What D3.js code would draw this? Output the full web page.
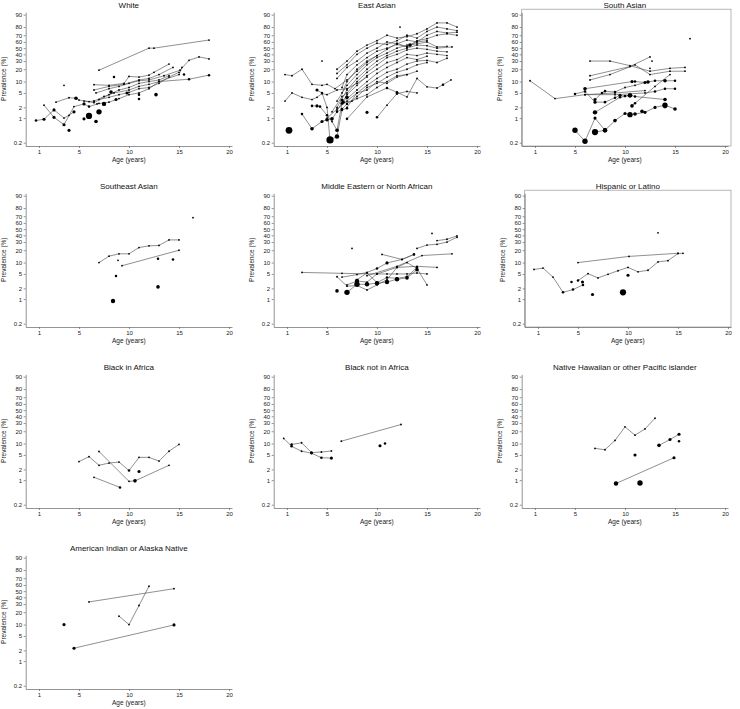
<!DOCTYPE html>
<html>
<head>
<meta charset="utf-8">
<script src="https://cdn.jsdelivr.net/npm/d3@7"></script>
<style>
body { margin: 0; background: #fff; }
svg text { font-family: "Liberation Sans", Arial, sans-serif; }
</style>
</head>
<body>
<svg id="chart" width="740" height="709"></svg>
<script>
var yTicks = [0.2, 1, 2, 5, 10, 20, 30, 40, 50, 60, 70, 80, 90];
var xTicks = [1, 5, 10, 15, 20];

// each series is a list of [age, prevalence %, weight]; a one-point series is a lone study
var white = [
	[[7,19],[12,50],[12.5,50],[18,63]],
	[[6.5,8.3],[8,8],[9.5,9],[10,13.5],[11,13],[12,14.5],[12.5,17],[14,26]],
	[[6.5,6],[8,7.5],[9.5,8.5],[11,11],[12,12],[13,15],[14.4,22]],
	[[6.7,5],[8,6.5],[9,7.5],[10,9],[11,10.5],[12,11],[13.5,14],[15.1,19],[16,31],[17,36],[18,33]],
	[[6.5,3],[7.5,4],[8.5,5],[10,6],[11,7.5],[12,8.5],[13,10],[15,15],[15.3,22]],
	[[7,3.3],[8,3.8],[9,4.5],[10,5.2],[11,6.5],[12,7],[13,9],[14,13],[15,17]],
	[[6.8,2.5],[8,2.8],[9,3.5],[10,4.5],[11,5],[12,6.5],[13,10],[16,11.5,2],[18,14.5,2]],
	[[5.5,3],[6.5,2.7],[8,4.5],[9,6],[10,7],[11,9],[12,10],[13,11],[14,14]],
	[[0.7,0.85,2],[1.5,0.93,3],[2.5,1.7,3],[3.5,1.0],[4,1.2],[4.5,1.5,3]],
	[[1.5,2.3],[2.5,1.05,3],[3.5,0.65,3],[4.5,2.1],[5.5,2.5,3],[6,2.1,2],[7,2.6]],
	[[2.7,2.8],[4,3.7],[4.7,3.6,4],[5,3.2],[6,2.9],[6.5,3]],
	[[3.5,8]], [[4,0.45,3]], [[6,1.15,12]], [[7,1.5,9]], [[7.5,2.5,6]], [[6.7,0.8,4]],
	[[5.5,0.95,3]], [[8.5,13,2]], [[8.7,3.3,3]], [[8.2,5.3,4]], [[9.8,5,3]], [[11,3.4,2]],
	[[11,4.5,2]], [[12.7,4.5,4]], [[15.5,15,2]]
];

var eastAsian = [
	[[6,20],[7,30],[8,45],[9,55],[10,62],[11,70],[12,66],[13,68],[14,72],[15,78],[16,84],[17,84],[18,80]],
	[[6,16],[7,25],[8,40],[9,50],[10,58],[11,56],[12,62],[13,70],[14,66],[15,75],[16,80],[17,78],[18,76]],
	[[6,12],[7,22],[8,30],[9,42],[10,50],[11,60],[12,57],[13,63],[14,60],[15,70],[16,75],[17,73],[18,74]],
	[[6.5,7],[7,15],[8,25],[9,35],[10,45],[11,50],[12,56],[13,52],[14,62],[15,65],[16,70],[17,72],[18,70]],
	[[6.5,5],[7,10],[8,20],[9,30],[10,38],[11,48],[12,58],[13,52],[14,60],[15,62]],
	[[6,3],[7,8],[8,15],[9,25],[10,35],[11,42],[12,50],[13,55],[14,57],[15,60],[16,52],[17,53]],
	[[6,2],[7,6],[8,12],[9,20],[10,30],[11,38],[12,45],[13,50],[14,55],[15,54],[16,50],[17.5,52]],
	[[5.5,1.5],[6.5,4],[7,5],[8,10],[9,17],[10,25],[11,35],[12,40],[13,47],[14,50],[15,48],[16,45],[17,44]],
	[[6,1.6],[7,4.5],[8,8],[9,14],[10,20],[11,28],[12,32],[13,40],[14,38],[15,42],[16,40],[17,38]],
	[[7,3.5],[8,6],[9,10],[10,16],[11,22],[12,28],[13,35],[14,32],[15,37]],
	[[7,2],[8,5],[9,8],[10,12],[11,17],[12,20],[13,26],[14,30],[15,31],[16,28],[17,34]],
	[[6.7,2.8],[7.5,3],[8,4],[9,7],[10,9],[11,13],[12,17],[13,20],[14,25],[15,28]],
	[[7,2.6],[8,3.5],[9,4.5],[10,7],[11,10],[12,14],[13,15],[14,18]],
	[[5,1],[6,1.8],[7,3],[8,5],[9,6],[10,10],[11,9],[12,13],[13,15]],
	[[0.8,15],[1.5,14],[2.5,20],[3.5,8.5],[4.5,8],[5,8.5],[5.8,6.5],[7,11],[8,18],[9,28],[10,38]],
	[[0.8,3],[1.5,5],[2.5,3.8],[3.5,3.3],[4,3.8],[4.5,4.8],[5,4.5],[6,6],[7,6.5],[8,9],[9,13]],
	[[2.5,1.3,2],[3.5,0.5,4],[4.5,0.8,3],[5,0.9,4],[5.5,0.95,4],[6,1.5,2],[6.5,1.8,2],[7,2.5,2]],
	[[3.5,2.2,2],[4,2.2,3],[4.3,2.1,2],[5,1.2,2],[5.5,0.8],[6,0.45,4],[6.5,2.6,3],[7,3.8,4]],
	[[4,6,3],[4.5,5,2],[5,2],[5.3,0.24,16],[6,0.3,6],[6.5,1.7,2],[7,1.9,2]],
	[[7,0.95,2],[9,3.9],[11,6.8,2],[12,5.2,2],[13,3.9],[14,12],[15,7.3],[16,6.8],[16.6,8.3,2],[17.4,11]],
	[[10,1.05,2],[11,2.3],[12,4.8,2],[13,5.5],[14,5]],
	[[1.2,0.45,14]], [[4.5,30]], [[12.3,80]], [[13.3,55,4]], [[9,1.45,3]], [[6.5,3.2,3]], [[6.6,2.8,3]]
];

var southAsian = [
	[[0.5,10.5],[3,3.5],[6,4.5],[9,5],[12,5.8]],
	[[5,4.7,2],[6,5.5,2],[7,2.8,3],[8,2.8,2],[9,3.7,2],[9.5,4.3,3],[10,4.1,2],[10.5,4.3,6],[11,4,2],[14,3.3,4]],
	[[6,6.5,4],[10.7,10,3],[11,10,2],[12,9.5,3],[12.3,9.8,4]],
	[[7,3.3,3],[7.7,5,2],[8,5.6,2],[9,5.3,2],[10,7],[11,8],[12,9.5],[13,10.5,2],[14,10.5,4],[15,10.5,2]],
	[[6,4.5],[9,4.5],[12,5],[13,5.5,2],[14,6.5,2],[15,6.5,2]],
	[[10.7,2.2,4],[11,2.6,2],[13,7.5],[14.5,15]],
	[[7,1.45,6],[9.5,3.8,2],[10.5,4.3,6]],
	[[5,0.45,9],[6,0.22,9],[7,1,3],[8,0.45,6],[9,0.85,4],[10,1.35,3],[10.5,1.25,9],[11,1.3,4],[12,1.45,3],[13,2,3],[14,2.3,9],[15,1.8,4]],
	[[7,0.4,12],[8,0.45,6]],
	[[6.5,30],[8.5,30],[10.5,24],[12.5,18],[14.5,21],[16,22]],
	[[6.5,14],[10.5,23],[12.5,36]],
	[[6.5,11],[8.5,15],[11,25],[12.5,15],[14.5,18],[16,18]],
	[[12.7,30]], [[16.5,65]], [[12.5,21]], [[11.7,1.55,4]], [[14,2.1,4]]
];

var southeastAsian = [
	[[7,10],[8,14.5],[9,16.5],[10,16.5],[11,23],[12,25],[13,25.5],[14,33],[15,33]],
	[[9.3,8.3],[15,20]],
	[[8.9,11.4]], [[8.7,4.4,2]], [[8.4,0.88,6]], [[12.9,2.2,4]], [[12.9,12.5,2]], [[14.4,12,2]], [[16.4,68]]
];

var mena = [
	[[2.5,5.5],[6.5,5.2],[10,5],[12,7.5],[14,8],[16,7.5]],
	[[6,4.2],[7,2.3],[8,2.4],[9,1.8],[10,2.5],[11,3.5],[12,7.5],[13,10],[14,7],[15,2.5]],
	[[6.5,4.1],[8,4.8],[9,5.5],[10,7,2],[11,9.8,3],[12.5,12],[13.7,16,2]],
	[[7,1.55,9],[8,2.6,9],[9,2.6,6],[10,2.8,6],[11,3,6],[12,3.6,6],[13,3.9,4],[14,6.5,4]],
	[[7,2.5],[8,3.2,6],[9,3],[10,5],[11,5],[12,5],[13,5],[14,5.3],[15,5]],
	[[8,3.5],[9,5.3],[10,2.9,2],[11,4,2],[12,3.8,2],[13,4.2,2],[14,7.5,2]],
	[[10.5,16],[12.5,12],[13.7,16]],
	[[9,4.5],[12,8],[14.5,15],[17.5,16.5]],
	[[14,22],[15,26],[16,27],[17,30],[18,37]],
	[[16,32],[17,34],[18,39]],
	[[6,1.7,4]], [[7.5,22]], [[15.5,43]]
];

var hispanic = [
	[[0.6,6.6],[1.5,7.2],[2.5,4.1],[3.5,1.55,2],[4.5,1.85,2],[5.5,2.5,2]],
	[[5,3.3,2],[6,5.1],[7,3.9],[8,4.9],[9,6.1],[10,7.5],[11,5.7],[12,6.3],[13,10.4],[14,11.2],[15,16.8],[15.5,17]],
	[[5,10],[10.1,14.3],[15,17]],
	[[4.35,3,2]], [[5.45,3,3]], [[6.45,1.35,3]], [[9.5,1.55,12]], [[10,4.6,3]], [[13,44]]
];

var blackAfrica = [
	[[5,3.3],[6,4.5],[7,2.6],[8,3],[9,3.2],[10,1.85,2],[11,4.3],[12,4.3],[13,3.4],[14,6.3],[15,9.5]],
	[[7,6.2],[10,0.92],[10.6,0.95,4],[14,2.6]],
	[[6.5,1.2],[9.1,0.62,2]],
	[[11,1.75,3]]
];

var blackNotAfrica = [
	[[0.67,13.5],[1.46,8.5,2],[2.46,6.3],[3.45,5.6,2],[4.44,4.2,2],[5.44,4.1,3]],
	[[1.46,9.5,2],[2.46,10.5],[3.45,5.8,2],[4.44,6],[5.44,6.4]],
	[[6.43,11.5],[12.4,28]],
	[[10.3,8.8,3]], [[10.8,10,2]]
];

var nhpi = [
	[[7,7.5],[8,6.9],[9,12],[10,25],[11,16.2],[12,22.5],[13,37]],
	[[13.4,9,4],[14.5,12.7,3],[15.4,17,3]],
	[[9.1,0.8,6],[14.9,4.2,3]],
	[[15.4,11.5,2]], [[11,5,3]], [[11.5,0.83,9]]
];

var aian = [
	[[6,33],[14.5,54]],
	[[9,16.2],[10,10],[11,28],[12,58]],
	[[4.5,2.3,3],[14.5,9.8,3]],
	[[3.5,10,3]]
];

var panels = [
	{title: 'White', data: white, row: 0, x1: 39},
	{title: 'East Asian', data: eastAsian, row: 0, x1: 287},
	{title: 'South Asian', data: southAsian, row: 0, x1: 535, box: true},
	{title: 'Southeast Asian', data: southeastAsian, row: 1, x1: 39},
	{title: 'Middle Eastern or North African', data: mena, row: 1, x1: 287},
	{title: 'Hispanic or Latino', data: hispanic, row: 1, x1: 538, box: true},
	{title: 'Black in Africa', data: blackAfrica, row: 2, x1: 39},
	{title: 'Black not in Africa', data: blackNotAfrica, row: 2, x1: 287},
	{title: 'Native Hawaiian or other Pacific islander', data: nhpi, row: 2, x1: 535},
	{title: 'American Indian or Alaska Native', data: aian, row: 3, x1: 39}
];

var lg = function(p) { return Math.log(p / (100 - p)); };
var svg = d3.select('#chart');
var rScale = d3.scaleSqrt().domain([0, 16]).range([0, 3.6]);
var axisCol = '#666';

panels.forEach(function(p) {
	var y90 = 14.7 + 181 * p.row;
	var y02 = y90 + 128;
	var k = (y02 - y90) / (lg(90) - lg(0.2));
	var x = d3.scaleLinear().domain([-0.33, 20.3]).range([p.x1 - 13.3, p.x1 + 193]);
	var y = d3.scaleLinear().domain([lg(0.2) - 3.3 / k, lg(90) + 2.4 / k]).range([y02 + 3.3, y90 - 2.4]);
	var g = svg.append('g');
	var left = x(-0.33), right = x(20.3), bottom = y02 + 3.3;

	if (p.box) {
		g.append('rect')
			.attr('x', left).attr('y', y90 - 5.5)
			.attr('width', 731 - left).attr('height', bottom - (y90 - 5.5))
			.style('fill', 'none').style('stroke', '#999').style('stroke-width', 0.7);
	}

	var ax = g.append('g')
		.attr('transform', 'translate(0,' + bottom + ')')
		.call(d3.axisBottom(x).tickValues(xTicks).tickSize(2).tickSizeOuter(0).tickPadding(2));
	var ay = g.append('g')
		.attr('transform', 'translate(' + left + ',0)')
		.call(d3.axisLeft(y).tickValues(yTicks.map(lg))
			.tickFormat(function(d, i) { return yTicks[i]; })
			.tickSize(2).tickSizeOuter(0).tickPadding(1.5));
	[ax, ay].forEach(function(a) {
		a.attr('font-family', '"Liberation Sans", Arial, sans-serif').attr('font-size', 6);
		a.selectAll('path, line').style('stroke', axisCol).style('stroke-width', 0.7);
		a.selectAll('text').style('fill', '#222');
	});

	g.append('text')
		.attr('x', (left + right) / 2).attr('y', y90 - 7)
		.attr('text-anchor', 'middle').style('font-size', '8px').style('fill', '#111')
		.text(p.title);
	g.append('text')
		.attr('x', (left + right) / 2).attr('y', y02 + 19.5)
		.attr('text-anchor', 'middle').style('font-size', '6.5px').style('fill', '#222')
		.text('Age (years)');
	g.append('text')
		.attr('transform', 'translate(' + (left - 19.5) + ',' + ((y90 + y02) / 2) + ') rotate(-90)')
		.attr('text-anchor', 'middle').style('font-size', '6.5px').style('fill', '#222')
		.text('Prevalence (%)');

	var line = d3.line()
		.x(function(d) { return x(d[0]); })
		.y(function(d) { return y(lg(d[1])); });

	g.selectAll('path.series')
		.data(p.data.filter(function(s) { return s.length > 1; }))
		.enter().append('path')
		.attr('class', 'series')
		.attr('d', line)
		.style('fill', 'none').style('stroke', '#444').style('stroke-width', 0.6);

	var pts = [];
	p.data.forEach(function(s) { s.forEach(function(d) { pts.push(d); }); });
	g.selectAll('circle')
		.data(pts)
		.enter().append('circle')
		.attr('cx', function(d) { return x(d[0]); })
		.attr('cy', function(d) { return y(lg(d[1])); })
		.attr('r', function(d) { return rScale(d[2] || 1); })
		.style('fill', '#000');
});
</script>
</body>
</html>
